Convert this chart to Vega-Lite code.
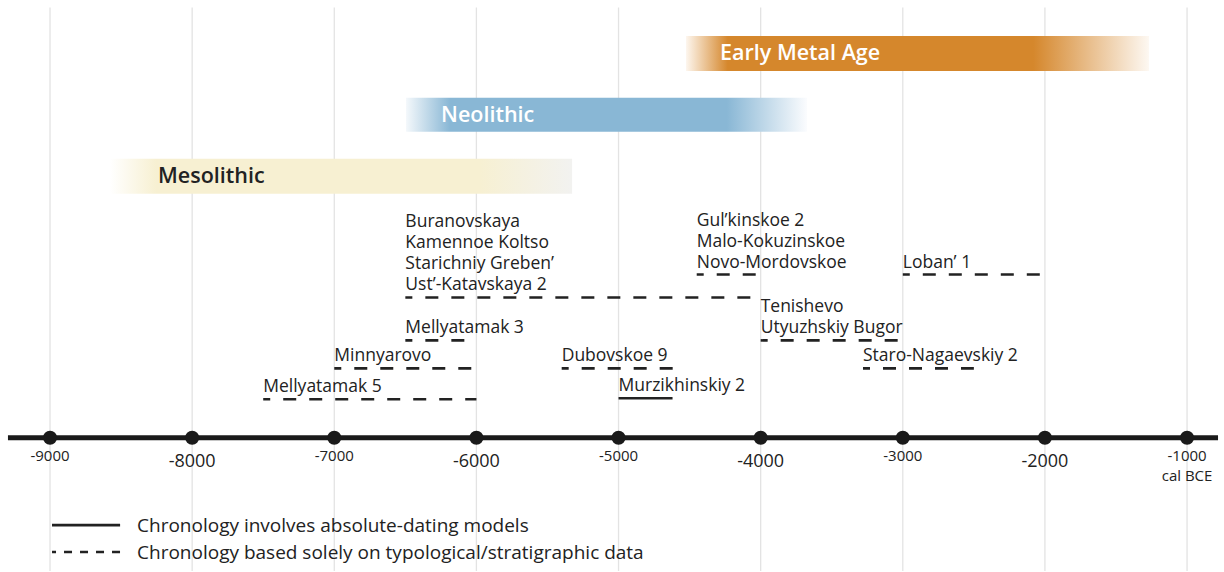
{
  "$schema": "https://vega.github.io/schema/vega-lite/v6.json",
  "width": 1224,
  "height": 572,
  "padding": 0,
  "autosize": {"type": "fit", "contains": "padding"},
  "background": "#ffffff",
  "config": {"view": {"stroke": null}, "font": "Open Sans", "text": {"font": "Open Sans"}},
  "datasets": {
    "ticks": [
      {"year": -9000}, {"year": -8000}, {"year": -7000}, {"year": -6000}, {"year": -5000},
      {"year": -4000}, {"year": -3000}, {"year": -2000}, {"year": -1000}
    ],
    "periods": [
      {"period": "Early Metal Age", "start": -4525, "end": -1268, "top": 3.6, "bottom": 7.1},
      {"period": "Neolithic", "start": -6495, "end": -3674, "top": 9.8, "bottom": 13.2},
      {"period": "Mesolithic", "start": -8578, "end": -5327, "top": 15.9, "bottom": 19.4}
    ],
    "sites": [
      {"site": "Buranovskaya\nKamennoe Koltso\nStarichniy Greben’\nUst’-Katavskaya 2", "start": -6500, "end": -4000, "lane": 29.8, "chronology": "typological"},
      {"site": "Gul’kinskoe 2\nMalo-Kokuzinskoe\nNovo-Mordovskoe", "start": -4450, "end": -4000, "lane": 27.5, "chronology": "typological"},
      {"site": "Loban’ 1", "start": -3000, "end": -2000, "lane": 27.5, "chronology": "typological"},
      {"site": "Tenishevo\nUtyuzhskiy Bugor", "start": -4000, "end": -3000, "lane": 34.1, "chronology": "typological"},
      {"site": "Mellyatamak 3", "start": -6500, "end": -6000, "lane": 34.1, "chronology": "typological"},
      {"site": "Minnyarovo", "start": -7000, "end": -6000, "lane": 36.9, "chronology": "typological"},
      {"site": "Dubovskoe 9", "start": -5400, "end": -4530, "lane": 36.9, "chronology": "typological"},
      {"site": "Staro-Nagaevskiy 2", "start": -3280, "end": -2500, "lane": 36.9, "chronology": "typological"},
      {"site": "Mellyatamak 5", "start": -7500, "end": -6000, "lane": 40.0, "chronology": "typological"},
      {"site": "Murzikhinskiy 2", "start": -5000, "end": -4620, "lane": 39.9, "chronology": "absolute"}
    ],
    "legend": [
      {"chronology": "absolute", "label": "Chronology involves absolute-dating models", "lane": 52.6},
      {"chronology": "typological", "label": "Chronology based solely on typological/stratigraphic data", "lane": 55.3}
    ]
  },
  "layer": [
    {
      "data": {"name": "ticks"},
      "mark": {"type": "rule", "color": "#e3e3e3", "strokeWidth": 1.3},
      "encoding": {
        "x": {"field": "year", "type": "quantitative", "scale": {"domain": [-9352, -740], "nice": false, "zero": false}, "axis": null},
        "y": {"datum": 0.75, "type": "quantitative", "scale": {"domain": [57.2, 0], "nice": false, "zero": false}, "axis": null},
        "y2": {"datum": 57.2}
      }
    },
    {
      "data": {"name": "periods"},
      "transform": [{"filter": "datum.period == 'Early Metal Age'"}],
      "mark": {"type": "rect", "color": {"gradient": "linear", "x1": 0, "y1": 0, "x2": 1, "y2": 0, "stops": [
        {"offset": 0, "color": "#fdf6ee"}, {"offset": 0.09, "color": "#d5872c"}, {"offset": 0.75, "color": "#d5872c"}, {"offset": 1, "color": "#fdf8f2"}]}},
      "encoding": {
        "x": {"field": "start", "type": "quantitative"},
        "x2": {"field": "end"},
        "y": {"field": "top", "type": "quantitative"},
        "y2": {"field": "bottom"}
      }
    },
    {
      "data": {"name": "periods"},
      "transform": [{"filter": "datum.period == 'Neolithic'"}],
      "mark": {"type": "rect", "color": {"gradient": "linear", "x1": 0, "y1": 0, "x2": 1, "y2": 0, "stops": [
        {"offset": 0, "color": "#f4f8fb"}, {"offset": 0.11, "color": "#89b7d5"}, {"offset": 0.8, "color": "#89b7d5"}, {"offset": 1, "color": "#fbfcfe"}]}},
      "encoding": {
        "x": {"field": "start", "type": "quantitative"},
        "x2": {"field": "end"},
        "y": {"field": "top", "type": "quantitative"},
        "y2": {"field": "bottom"}
      }
    },
    {
      "data": {"name": "periods"},
      "transform": [{"filter": "datum.period == 'Mesolithic'"}],
      "mark": {"type": "rect", "color": {"gradient": "linear", "x1": 0, "y1": 0, "x2": 1, "y2": 0, "stops": [
        {"offset": 0, "color": "#ffffff"}, {"offset": 0.1, "color": "#f7f0d2"}, {"offset": 0.8, "color": "#f7f0d2"}, {"offset": 1, "color": "#f2f2f0"}]}},
      "encoding": {
        "x": {"field": "start", "type": "quantitative"},
        "x2": {"field": "end"},
        "y": {"field": "top", "type": "quantitative"},
        "y2": {"field": "bottom"}
      }
    },
    {
      "data": {"name": "periods"},
      "transform": [{"filter": "datum.period == 'Early Metal Age'"}],
      "mark": {"type": "text", "align": "left", "baseline": "middle", "dx": 34, "dy": 18.5, "fontSize": 21.5, "fontWeight": 600, "color": "#ffffff"},
      "encoding": {
        "x": {"field": "start", "type": "quantitative"},
        "y": {"field": "top", "type": "quantitative"},
        "text": {"field": "period"}
      }
    },
    {
      "data": {"name": "periods"},
      "transform": [{"filter": "datum.period == 'Neolithic'"}],
      "mark": {"type": "text", "align": "left", "baseline": "middle", "dx": 35, "dy": 18, "fontSize": 21.5, "fontWeight": 600, "color": "#ffffff"},
      "encoding": {
        "x": {"field": "start", "type": "quantitative"},
        "y": {"field": "top", "type": "quantitative"},
        "text": {"field": "period"}
      }
    },
    {
      "data": {"name": "periods"},
      "transform": [{"filter": "datum.period == 'Mesolithic'"}],
      "mark": {"type": "text", "align": "left", "baseline": "middle", "dx": 48, "dy": 18.5, "fontSize": 21.5, "fontWeight": 600, "color": "#222222"},
      "encoding": {
        "x": {"field": "start", "type": "quantitative"},
        "y": {"field": "top", "type": "quantitative"},
        "text": {"field": "period"}
      }
    },
    {
      "data": {"name": "sites"},
      "mark": {"type": "rule", "color": "#222222", "strokeWidth": 2.6, "strokeCap": "butt", "strokeDashOffset": 6},
      "encoding": {
        "x": {"field": "start", "type": "quantitative"},
        "x2": {"field": "end"},
        "y": {"field": "lane", "type": "quantitative"},
        "strokeDash": {"field": "chronology", "type": "nominal", "scale": {"domain": ["absolute", "typological"], "range": [[1, 0], [13, 13]]}, "legend": null}
      }
    },
    {
      "data": {"name": "sites"},
      "transform": [{"filter": "split(datum.site, '\\n').length == 1"}],
      "mark": {"type": "text", "align": "left", "baseline": "bottom", "dy": -3, "fontSize": 17.5, "lineBreak": "\n", "lineHeight": 21, "color": "#222222"},
      "encoding": {
        "x": {"field": "start", "type": "quantitative"},
        "y": {"field": "lane", "type": "quantitative"},
        "text": {"field": "site"}
      }
    },
    {
      "data": {"name": "sites"},
      "transform": [{"filter": "split(datum.site, '\\n').length == 2"}],
      "mark": {"type": "text", "align": "left", "baseline": "bottom", "dy": -24, "fontSize": 17.5, "lineBreak": "\n", "lineHeight": 21, "color": "#222222"},
      "encoding": {
        "x": {"field": "start", "type": "quantitative"},
        "y": {"field": "lane", "type": "quantitative"},
        "text": {"field": "site"}
      }
    },
    {
      "data": {"name": "sites"},
      "transform": [{"filter": "split(datum.site, '\\n').length == 3"}],
      "mark": {"type": "text", "align": "left", "baseline": "bottom", "dy": -45, "fontSize": 17.5, "lineBreak": "\n", "lineHeight": 21, "color": "#222222"},
      "encoding": {
        "x": {"field": "start", "type": "quantitative"},
        "y": {"field": "lane", "type": "quantitative"},
        "text": {"field": "site"}
      }
    },
    {
      "data": {"name": "sites"},
      "transform": [{"filter": "split(datum.site, '\\n').length == 4"}],
      "mark": {"type": "text", "align": "left", "baseline": "bottom", "dy": -66, "fontSize": 17.5, "lineBreak": "\n", "lineHeight": 21, "color": "#222222"},
      "encoding": {
        "x": {"field": "start", "type": "quantitative"},
        "y": {"field": "lane", "type": "quantitative"},
        "text": {"field": "site"}
      }
    },
    {
      "data": {"values": [{"from": -9296, "to": -782}]},
      "mark": {"type": "rule", "color": "#1a1a1a", "strokeWidth": 5},
      "encoding": {
        "x": {"field": "from", "type": "quantitative"},
        "x2": {"field": "to"},
        "y": {"datum": 43.85, "type": "quantitative"}
      }
    },
    {
      "data": {"name": "ticks"},
      "mark": {"type": "circle", "color": "#1a1a1a", "opacity": 1, "size": 200},
      "encoding": {
        "x": {"field": "year", "type": "quantitative"},
        "y": {"datum": 43.85, "type": "quantitative"}
      }
    },
    {
      "data": {"name": "ticks"},
      "transform": [{"filter": "datum.year % 2000 != 0"}],
      "mark": {"type": "text", "align": "center", "baseline": "middle", "fontSize": 15, "color": "#222222"},
      "encoding": {
        "x": {"field": "year", "type": "quantitative"},
        "y": {"datum": 45.7, "type": "quantitative"},
        "text": {"field": "year", "type": "nominal"}
      }
    },
    {
      "data": {"name": "ticks"},
      "transform": [{"filter": "datum.year % 2000 == 0"}],
      "mark": {"type": "text", "align": "center", "baseline": "middle", "fontSize": 18, "color": "#222222"},
      "encoding": {
        "x": {"field": "year", "type": "quantitative"},
        "y": {"datum": 46.25, "type": "quantitative"},
        "text": {"field": "year", "type": "nominal"}
      }
    },
    {
      "data": {"name": "ticks"},
      "transform": [{"filter": "datum.year == -1000"}],
      "mark": {"type": "text", "align": "center", "baseline": "middle", "fontSize": 15, "color": "#222222", "text": "cal BCE"},
      "encoding": {
        "x": {"field": "year", "type": "quantitative"},
        "y": {"datum": 47.7, "type": "quantitative"}
      }
    },
    {
      "data": {"name": "legend"},
      "transform": [{"filter": "datum.chronology == 'absolute'"}],
      "mark": {"type": "rule", "color": "#222222", "strokeWidth": 2.6, "strokeCap": "butt"},
      "encoding": {
        "x": {"datum": -8986, "type": "quantitative"},
        "x2": {"datum": -8507},
        "y": {"field": "lane", "type": "quantitative"}
      }
    },
    {
      "data": {"name": "legend"},
      "transform": [{"filter": "datum.chronology == 'typological'"}],
      "mark": {"type": "rule", "color": "#222222", "strokeWidth": 2.6, "strokeCap": "butt", "strokeDash": [8, 8], "strokeDashOffset": 4},
      "encoding": {
        "x": {"datum": -8986, "type": "quantitative"},
        "x2": {"datum": -8507},
        "y": {"field": "lane", "type": "quantitative"}
      }
    },
    {
      "data": {"name": "legend"},
      "mark": {"type": "text", "align": "left", "baseline": "middle", "dy": 1, "fontSize": 19, "color": "#222222"},
      "encoding": {
        "x": {"datum": -8388, "type": "quantitative"},
        "y": {"field": "lane", "type": "quantitative"},
        "text": {"field": "label"}
      }
    }
  ]
}
